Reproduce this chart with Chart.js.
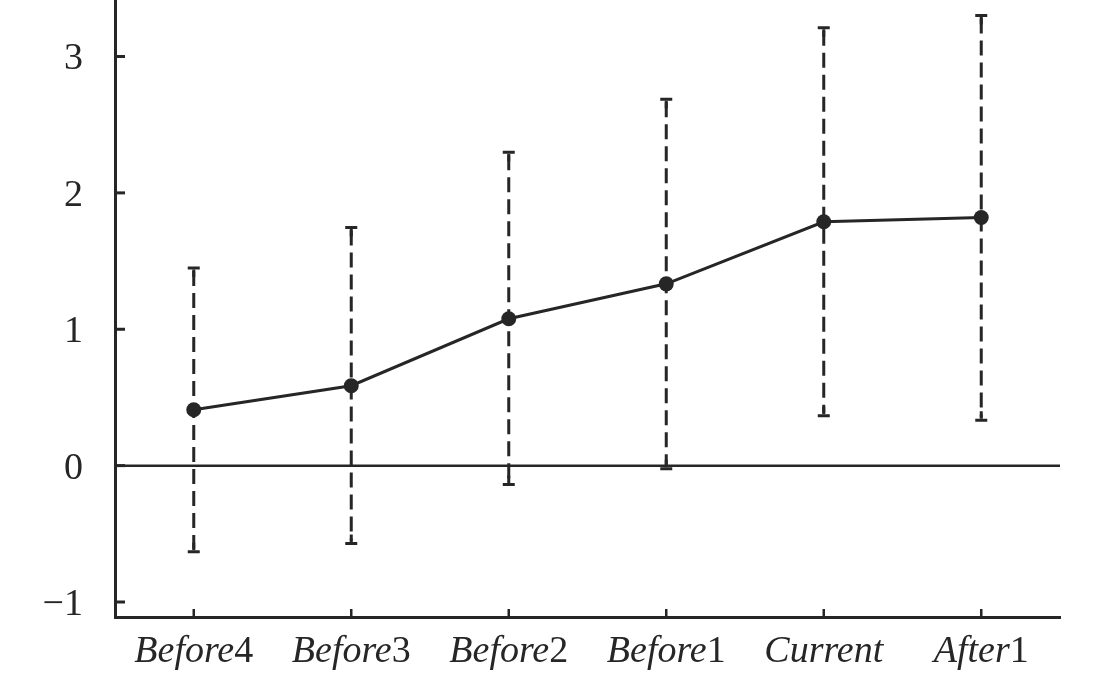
<!DOCTYPE html>
<html>
<head>
<meta charset="utf-8">
<script src="https://cdn.jsdelivr.net/npm/chart.js@4/dist/chart.umd.min.js"></script>
<style>
  html, body { margin: 0; padding: 0; background: #fff; overflow: hidden; }
  /* canvas shifted up so the point overflow padding Chart.js adds at the top falls off-page */
  #wrap { width: 1102px; height: 682px; margin-top: -8px; }
</style>
</head>
<body>
<div id="wrap"><canvas id="chart"></canvas></div>
<script>
// categories: italic word + upright number
var labelWords = ['Before', 'Before', 'Before', 'Before', 'Current', 'After'];
var labelNums  = ['4', '3', '2', '1', '', '1'];
var categories = ['Before4', 'Before3', 'Before2', 'Before1', 'Current', 'After1'];

var means = [0.41, 0.586, 1.077, 1.333, 1.788, 1.819];
var upper = [1.45, 1.746, 2.298, 2.686, 3.211, 3.30];
var lower = [-0.632, -0.571, -0.139, -0.022, 0.366, 0.332];

var yTicks = [-1, 0, 1, 2, 3];
var yTickLabels = ['\u22121', '0', '1', '2', '3'];
var yMin = -1.11, yMax = 3.418;

var ink = '#262626';
var serif = '"Liberation Serif", "Times New Roman", serif';

// zero line, error bars, tick marks and the axis labels
var extras = {
  id: 'extras',
  beforeDatasetsDraw: function(chart) {
    var ctx = chart.ctx, x = chart.scales.x, y = chart.scales.y;
    var area = chart.chartArea;
    ctx.save();
    ctx.strokeStyle = ink;

    // zero line
    ctx.lineWidth = 2.5;
    ctx.beginPath();
    ctx.moveTo(area.left, y.getPixelForValue(0));
    ctx.lineTo(area.right, y.getPixelForValue(0));
    ctx.stroke();

    // error bars
    for (var i = 0; i < means.length; i++) {
      var px = x.getPixelForValue(i);
      var top = y.getPixelForValue(upper[i]);
      var bot = y.getPixelForValue(lower[i]);
      ctx.lineWidth = 3;
      ctx.setLineDash([15, 7]);
      ctx.beginPath();
      ctx.moveTo(px, top + 3);
      ctx.lineTo(px, bot - 3);
      ctx.stroke();
      ctx.setLineDash([]);
      ctx.beginPath();
      ctx.moveTo(px, top + 1.5); ctx.lineTo(px, top + 9);
      ctx.moveTo(px, bot - 1.5); ctx.lineTo(px, bot - 9);
      ctx.stroke();
      ctx.beginPath();
      ctx.moveTo(px - 6, top); ctx.lineTo(px + 6, top);
      ctx.moveTo(px - 6, bot); ctx.lineTo(px + 6, bot);
      ctx.stroke();
    }
    ctx.restore();
  },
  afterDraw: function(chart) {
    var ctx = chart.ctx, x = chart.scales.x, y = chart.scales.y;
    var area = chart.chartArea;
    ctx.save();
    ctx.strokeStyle = ink;
    ctx.fillStyle = ink;

    // inward tick marks + y labels
    ctx.lineWidth = 3;
    ctx.font = '38px ' + serif;
    ctx.textAlign = 'right';
    ctx.textBaseline = 'middle';
    yTicks.forEach(function(v, k) {
      var py = y.getPixelForValue(v);
      ctx.beginPath();
      ctx.moveTo(area.left, py);
      ctx.lineTo(area.left + 10, py);
      ctx.stroke();
      ctx.fillText(yTickLabels[k], area.left - 32, py + 3);
    });
    ctx.lineWidth = 2.5;
    for (var i = 0; i < categories.length; i++) {
      var px = x.getPixelForValue(i);
      ctx.beginPath();
      ctx.moveTo(px, area.bottom);
      ctx.lineTo(px, area.bottom - 8);
      ctx.stroke();
    }

    // x labels: italic word, upright number
    ctx.textBaseline = 'alphabetic';
    ctx.textAlign = 'left';
    var fI = 'italic 38px ' + serif, fN = '38px ' + serif;
    var base = area.bottom + 45;
    for (var j = 0; j < categories.length; j++) {
      ctx.font = fI;
      var w1 = ctx.measureText(labelWords[j]).width;
      ctx.font = fN;
      var w2 = ctx.measureText(labelNums[j]).width;
      var start = x.getPixelForValue(j) - (w1 + w2) / 2;
      ctx.font = fI;
      ctx.fillText(labelWords[j], start, base);
      ctx.font = fN;
      ctx.fillText(labelNums[j], start + w1, base);
    }
    ctx.restore();
  }
};

new Chart(document.getElementById('chart'), {
  type: 'line',
  data: {
    labels: categories,
    datasets: [{
      data: means,
      borderColor: ink,
      backgroundColor: ink,
      borderWidth: 3,
      pointRadius: 7.5,
      pointBackgroundColor: ink,
      pointBorderWidth: 0,
      tension: 0
    }]
  },
  options: {
    responsive: true,
    maintainAspectRatio: false,
    animation: false,
    layout: { padding: { left: 0, top: 0, right: 42, bottom: 0 } },
    plugins: { legend: { display: false }, tooltip: { enabled: false } },
    scales: {
      x: {
        type: 'category',
        offset: true,
        grid: { display: false },
        border: { display: true, color: ink, width: 3 },
        ticks: { display: false },
        afterFit: function(s) { s.height = 57; }
      },
      y: {
        min: yMin,
        max: yMax,
        grid: { display: false, drawTicks: false },
        border: { display: true, color: ink, width: 3 },
        ticks: { display: false },
        afterFit: function(s) { s.width = 115; }
      }
    }
  },
  plugins: [extras]
});
</script>
</body>
</html>
